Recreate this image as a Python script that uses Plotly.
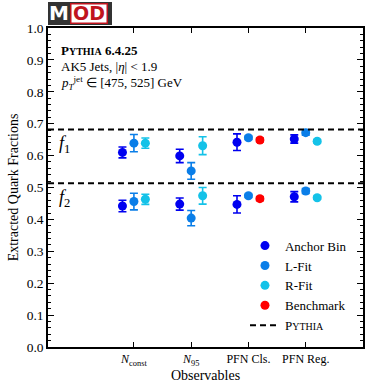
import plotly.graph_objects as go

categories = ["N_const", "N_95", "PFN Cls.", "PFN Reg."]
tick_labels = ["<i>N</i><sub>const</sub>", "<i>N</i><sub>95</sub>", "PFN Cls.", "PFN Reg."]
cat_pos = [1, 2, 3, 4]

# f1 (upper) and f2 (lower) values
anchor_f1 = [0.610, 0.599, 0.642, 0.652]
anchor_f1_err = [0.017, 0.021, 0.026, 0.013]
anchor_f2 = [0.442, 0.448, 0.447, 0.471]
anchor_f2_err = [0.018, 0.019, 0.027, 0.016]

lfit_f1 = [0.639, 0.552, 0.656, 0.672]
lfit_f1_err = [0.027, 0.026, 0.005, 0.008]
lfit_f2 = [0.456, 0.404, 0.474, 0.489]
lfit_f2_err = [0.026, 0.024, 0.005, 0.008]

rfit_cats = [1, 2, 4]
rfit_f1 = [0.639, 0.631, 0.645]
rfit_f1_err = [0.016, 0.028, 0.005]
rfit_f2 = [0.463, 0.474, 0.468]
rfit_f2_err = [0.016, 0.026, 0.005]

bench_cats = [3]
bench_f1 = [0.649]
bench_f1_err = [0.006]
bench_f2 = [0.465]
bench_f2_err = [0.006]

pythia_f1 = 0.682
pythia_f2 = 0.513

offset = 0.2
c_anchor = "#0000f0"
c_lfit = "#0a7ee8"
c_rfit = "#14c2e8"
c_bench = "#ff0000"

SERIF = "Liberation Serif"

fig = go.Figure()

def add_series(xs, y1, e1, y2, e2, color, name, dx):
    x = [c + dx for c in xs]
    fig.add_trace(go.Scatter(
        x=x + x, y=y1 + y2, mode="markers", name=name,
        marker=dict(color=color, size=9, symbol="circle"),
        error_y=dict(type="data", array=e1 + e2, color=color, thickness=1.6, width=4),
        showlegend=True,
    ))

add_series(cat_pos, anchor_f1, anchor_f1_err, anchor_f2, anchor_f2_err, c_anchor, "Anchor Bin", -offset)
add_series(cat_pos, lfit_f1, lfit_f1_err, lfit_f2, lfit_f2_err, c_lfit, "L-Fit", 0)
add_series(rfit_cats, rfit_f1, rfit_f1_err, rfit_f2, rfit_f2_err, c_rfit, "R-Fit", offset)
add_series(bench_cats, bench_f1, bench_f1_err, bench_f2, bench_f2_err, c_bench, "Benchmark", offset)

xr = [-0.5, 5]
fig.add_trace(go.Scatter(x=xr, y=[pythia_f1, pythia_f1], mode="lines",
                         line=dict(color="black", width=2, dash="6px,4px"),
                         name="P<span style='font-size:10px'>YTHIA</span>", showlegend=True))
fig.add_trace(go.Scatter(x=xr, y=[pythia_f2, pythia_f2], mode="lines",
                         line=dict(color="black", width=2, dash="6px,4px"),
                         showlegend=False))

annots = [
    dict(x=0.035, y=0.931, text="<b>P<span style='font-size:10px'>YTHIA</span> 6.4.25</b>", size=13),
    dict(x=0.035, y=0.879, text="AK5 Jets, |<i>η</i>| < 1.9", size=13),
    dict(x=0.035, y=0.829, text="<i>p</i><sub><i>T</i></sub><sup>jet</sup> ∈ [475, 525] GeV", size=13),
]
for a in annots:
    fig.add_annotation(x=a["x"], y=a["y"], xref="paper", yref="paper", text=a["text"],
                       showarrow=False, xanchor="left", yanchor="middle",
                       font=dict(family=SERIF, size=a["size"], color="black"))

fig.add_annotation(x=0.03, y=pythia_f1, xref="paper", yref="y", text="<i>f</i><sub>1</sub>",
                   showarrow=False, xanchor="left", yanchor="top", yshift=-2,
                   font=dict(family=SERIF, size=18, color="black"))
fig.add_annotation(x=0.03, y=pythia_f2, xref="paper", yref="y", text="<i>f</i><sub>2</sub>",
                   showarrow=False, xanchor="left", yanchor="top", yshift=-2,
                   font=dict(family=SERIF, size=18, color="black"))

# MOD logo built from annotations (boxes tied to text)
fig.add_annotation(x=0.1016, y=1.0455, xref="paper", yref="paper", text=" ", showarrow=False,
                   xanchor="center", yanchor="middle", width=64, height=23,
                   bgcolor="#333333", borderpad=0, borderwidth=0,
                   font=dict(family="DejaVu Sans", size=10, color="#333333"))
fig.add_annotation(x=0.130, y=1.0455, xref="paper", yref="paper", text=" ", showarrow=False,
                   xanchor="center", yanchor="middle", width=35, height=18,
                   bgcolor="white", bordercolor="#c0141e", borderwidth=1.5, borderpad=0,
                   font=dict(family="DejaVu Sans", size=10, color="white"))
fig.add_annotation(x=0.036, y=1.0455, xref="paper", yref="paper", text="<b>M</b>", showarrow=False,
                   xanchor="center", yanchor="middle",
                   font=dict(family="DejaVu Sans", size=20, color="white"))
fig.add_annotation(x=0.131, y=1.0455, xref="paper", yref="paper", text="<b>OD</b>", showarrow=False,
                   xanchor="center", yanchor="middle",
                   font=dict(family="DejaVu Sans", size=19, color="#c0141e"))

fig.update_layout(
    width=374, height=388,
    margin=dict(l=48, r=11, t=28, b=41, autoexpand=False),
    paper_bgcolor="white", plot_bgcolor="rgba(0,0,0,0)",
    font=dict(family=SERIF, size=12, color="black"),
    legend=dict(x=0.965, xanchor="right", y=0.02, yanchor="bottom",
                bgcolor="rgba(0,0,0,0)", font=dict(family=SERIF, size=13),
                itemwidth=30, tracegroupgap=0),
)
fig.update_xaxes(range=xr, tickmode="array", tickvals=cat_pos, ticktext=tick_labels,
                 ticks="inside", ticklen=5, tickwidth=1, tickcolor="black",
                 showline=True, linecolor="black", linewidth=1.5, mirror="allticks",
                 showgrid=False, zeroline=False, automargin=False,
                 title=dict(text="Observables", font=dict(size=14), standoff=2),
                 tickfont=dict(size=12))
fig.update_yaxes(range=[0, 1], tickmode="linear", tick0=0, dtick=0.1, tickformat=".1f",
                 ticks="inside", ticklen=6, tickwidth=1, tickcolor="black",
                 minor=dict(dtick=0.02, ticks="inside", ticklen=3, tickcolor="black", showgrid=False),
                 showline=True, linecolor="black", linewidth=1.5, mirror="allticks",
                 showgrid=False, zeroline=False, automargin=False,
                 title=dict(text="Extracted Quark Fractions", font=dict(size=14), standoff=5),
                 tickfont=dict(size=13.5))

# remove the browser's default 8px body margin so the figure sits at the page origin
fig.write_html("out.html", config={"displayModeBar": False},
               post_script="document.body.style.margin='0';")
